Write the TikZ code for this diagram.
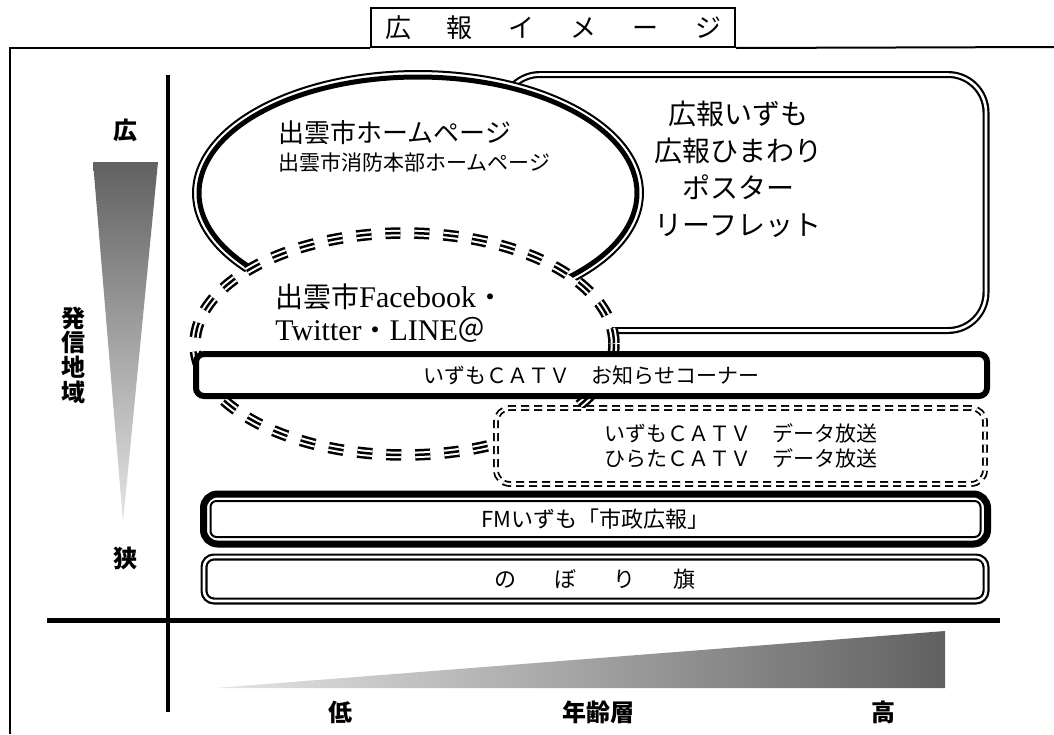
\documentclass[tikz,border=0pt]{standalone}
\usepackage{fontspec}
\setmainfont{Noto Sans CJK JP}
\newfontfamily\latinfont{Liberation Serif}
\newcommand\lat[1]{{\latinfont\fontsize{15}{16.5}\selectfont #1}}
\usetikzlibrary{positioning}
\tikzset{
  axislbl/.style={font=\bfseries\fontsize{12}{12.3}\selectfont, inner sep=0pt, align=center},
  boxtxt/.style={font=\fontsize{10.5}{12.5}\selectfont, align=center},
  dblbox/.style={draw, fill=white, line width=1.1pt, double=white, double distance=1.3pt},
  tripledash/.style={line width=1.25pt, double=white, double distance=3.25pt, dash pattern=on 7.5pt off 7pt},
  middash/.style={line width=1.25pt, dash pattern=on 7.5pt off 7pt}
}

\begin{document}
\begin{tikzpicture}[x=0.5pt, y=-0.5pt]
  \useasboundingbox (0,0) rectangle (1054,734);
  % frame and title
  \node[draw, line width=1pt, fill=white, minimum width=182pt, minimum height=19.5pt, inner sep=0pt, font=\fontsize{13}{13}\selectfont] (title) at (553,27.5) {広\hspace{18pt}報\hspace{18pt}イ\hspace{18pt}メ\hspace{18pt}ー\hspace{18pt}ジ};
  \coordinate (frameBL) at (10,734);
  \coordinate (frameTR) at (1054,47);
  \draw[line width=1pt] (frameBL) |- (title.south west);
  \draw[line width=1pt] (title.south east) -- (frameTR);
  % axes
  \coordinate (vtop) at (168,75);
  \coordinate (vbot) at (168,712);
  \coordinate (hleft) at (47,620);
  \coordinate (hright) at (1000,620);
  \draw[line width=1.75pt] (vtop) -- (vbot);
  \draw[line width=2.5pt] (hleft) -- (hright);
  % gradients
  \shade[top color=black!62, bottom color=black!10] (93,162) -- (158,162) -- (123,522) -- cycle;
  \shade[left color=black!10, right color=black!62] (215,688) -- (945,631) -- (945,688) -- cycle;
  \node[axislbl] (wide) at (125,130) {広};
  \node[axislbl] (narrow) at (125,558) {狭};
  \node[axislbl] (area) at (73,355) {発\\信\\地\\域};
  \node[axislbl] (low) at (340,712) {低};
  \node[axislbl] (age) at (598,712) {年齢層};
  \node[axislbl] (high) at (883,712) {高};
  % paper media
  \node[dblbox, rounded corners=19pt, minimum width=242pt, minimum height=128pt] (koho) at (744,202.5) {};
  % home page ellipse
  \fill[white] (418,193) ellipse [x radius=225, y radius=122];
  \draw[line width=2.5pt] (418,193) ++(48:219 and 116) arc[start angle=48, end angle=-222.5, x radius=219, y radius=116];
  \draw[line width=1pt] (418,193) ++(47.5:225 and 122) arc[start angle=47.5, end angle=-222, x radius=225, y radius=122];
  % sns ellipse
  \fill[white] (404.5,344) ellipse [x radius=209.5, y radius=111];
  \draw[tripledash] (404.5,344) ellipse [x radius=209.5, y radius=111];
  \draw[middash] (404.5,344) ellipse [x radius=209.5, y radius=111];
  % catv and radio
  \node[draw, fill=white, line width=3pt, rounded corners=4pt, minimum width=395.5pt, minimum height=21pt, boxtxt] (catv) at (591.5,375) {いずもＣＡＴＶ　お知らせコーナー};
  \node[draw, fill=white, line width=0.9pt, double=white, double distance=1.1pt, dash pattern=on 4pt off 2.5pt, rounded corners=7pt, minimum width=244.5pt, minimum height=38pt, boxtxt] (data) at (740.5,446) {いずもＣＡＴＶ　データ放送\\ひらたＣＡＴＶ　データ放送};
  \node[draw, fill=white, line width=3.5pt, rounded corners=7pt, minimum width=392pt, minimum height=25pt] (fm) at (595.5,519) {};
  \node[draw, line width=1pt, rounded corners=3pt, minimum width=385pt, minimum height=18pt, font=\fontsize{11}{11}\selectfont] (fmin) at (fm.center) {FMいずも「市政広報」};
  \node[dblbox, rounded corners=5pt, minimum width=391pt, minimum height=22pt, font=\fontsize{11}{11}\selectfont] (nobori) at (595,579) {の\hspace{19pt}ぼ\hspace{19pt}り\hspace{19pt}旗};
  % texts
  \node[anchor=west, inner sep=0pt, font=\fontsize{13}{13}\selectfont] (hp) at (278,133) {出雲市ホームページ};
  \node[anchor=west, inner sep=0pt, font=\fontsize{10.5}{10.5}\selectfont] (firehp) at (278,163) {出雲市消防本部ホームページ};
  \node[anchor=west, inner sep=0pt, align=left, font=\fontsize{14}{16.5}\selectfont] (sns) at (275,313.5) {出雲市\lat{Facebook}・\\\lat{Twitter}・\lat{LINE}＠};
  \node[inner sep=0pt, align=center, font=\fontsize{14}{18.5}\selectfont] (kohotxt) at (738,169) {広報いずも\\広報ひまわり\\ポスター\\リーフレット};
\end{tikzpicture}
\end{document}
